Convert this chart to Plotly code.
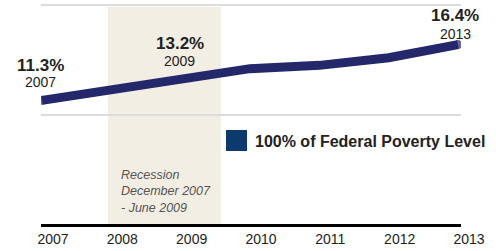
import plotly.graph_objects as go

# ---- data ----
years = [2007, 2008, 2009, 2010, 2011, 2012, 2013]
rate = [11.3, 12.3, 13.2, 14.2, 14.5, 15.2, 16.4]
tick_labels = ["2007", "2008", "2009", "2010", "2011", "2012", "2013"]
series_name = "100% of Federal Poverty Level"
labelled_years = [2007, 2009, 2013]
recession = [2007.95, 2009.58]
recession_text = "Recession<br>December 2007<br>- June 2009"
grid_values = [0, 10, 20]

FONT = "Liberation Sans, Arial, Helvetica, sans-serif"
LINE_COLOR = "#25276b"
LEG_COLOR = "#0c3a6f"
BAND_COLOR = "#f2eee4"

W, H = 496, 251
ML, MR, MT, MB = 41, 35, 3, 27
XR = [2006.986, 2013.043]
YR = [0, 20.2]
pw = W - ML - MR
ph = H - MT - MB


def px_to_x(px):
    return XR[0] + (px - ML) / pw * (XR[1] - XR[0])


def py_to_y(py):
    return YR[1] - (py - MT) / ph * (YR[1] - YR[0])


fig = go.Figure()

fig.add_shape(type="rect", x0=recession[0], x1=recession[1], y0=0, y1=19.85,
              fillcolor=BAND_COLOR, line_width=0, layer="below")

n = len(years)
fig.add_trace(go.Scatter(
    x=years, y=rate, mode="lines+markers",
    line=dict(color=LINE_COLOR, width=9),
    marker=dict(color=LINE_COLOR, size=[9] + [0] * (n - 2) + [9], line=dict(width=0)),
    showlegend=False, hoverinfo="skip",
))

# data labels
offsets = {2007: (-1, 35, 18), 2009: (-1, 36, 19), 2013: (-3, 29.5, 11)}
for yr in labelled_years:
    v = rate[years.index(yr)]
    dx, dv, dyr = offsets[yr]
    fig.add_annotation(x=yr, y=v, text=f"<b>{v:.1f}%</b>", showarrow=False,
                       xshift=dx, yshift=dv, font=dict(family=FONT, size=17, color="#222"),
                       xanchor="center", yanchor="middle")
    fig.add_annotation(x=yr, y=v, text=str(yr), showarrow=False,
                       xshift=dx, yshift=dyr, font=dict(family=FONT, size=14, color="#222"),
                       xanchor="center", yanchor="middle")

# recession text
fig.add_annotation(x=px_to_x(119), y=py_to_y(191), text=recession_text, showarrow=False,
                   xanchor="left", yanchor="middle", align="left",
                   font=dict(family=FONT, size=12.5, color="#555", style="italic"))

# legend
fig.add_shape(type="rect", x0=px_to_x(226), x1=px_to_x(247), y0=py_to_y(151), y1=py_to_y(130),
              fillcolor=LEG_COLOR, line_width=0, layer="above")
fig.add_annotation(x=px_to_x(253), y=py_to_y(141), text=f"<b>{series_name}</b>", showarrow=False,
                   xanchor="left", yanchor="middle",
                   font=dict(family=FONT, size=16, color="#222"))

fig.update_layout(
    width=W, height=H,
    margin=dict(l=ML, r=MR, t=MT, b=MB, pad=0),
    paper_bgcolor="white", plot_bgcolor="white",
    showlegend=False,
    xaxis=dict(range=XR, tickvals=years, ticktext=tick_labels, showgrid=False,
               zeroline=False, showline=True, linecolor="black", linewidth=3,
               ticks="", ticklabelshift=11,
               tickfont=dict(family=FONT, size=14, color="#222"), fixedrange=True),
    yaxis=dict(range=YR, tickvals=grid_values, showticklabels=False,
               gridcolor="#dcdcdc", gridwidth=2, zeroline=False, showline=False,
               fixedrange=True),
)

fig.write_html("out.html", config={"displayModeBar": False},
               post_script="document.body.style.margin='0';document.body.style.padding='0';")
